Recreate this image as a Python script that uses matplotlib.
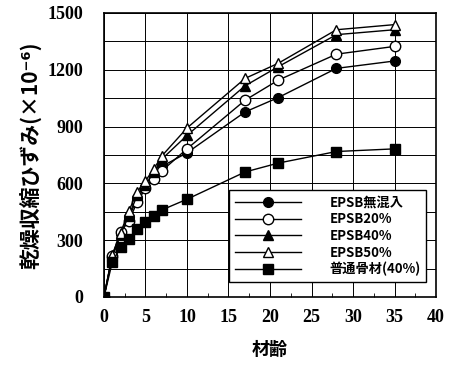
import numpy as np
import matplotlib
matplotlib.use('Agg')
import matplotlib.pyplot as plt
from matplotlib.ticker import MultipleLocator

# 材齢 (日)
age = [0, 1, 2, 3, 4, 5, 6, 7, 10, 17, 21, 28, 35]

# 乾燥収縮ひずみ (×10-6)
epsb_0 = [0, 210, 330, 420, 520, 580, 630, 690, 761, 977, 1053, 1207, 1246]
epsb_20 = [0, 215, 345, 400, 502, 573, 622, 667, 782, 1039, 1145, 1282, 1323]
epsb_40 = [0, 215, 330, 430, 536, 590, 660, 729, 853, 1115, 1216, 1385, 1411]
epsb_50 = [0, 223, 339, 454, 555, 613, 676, 746, 892, 1154, 1234, 1411, 1438]
normal_40 = [0, 183, 262, 305, 361, 394, 429, 460, 516, 660, 707, 768, 782]

labels = ['EPSB無混入', 'EPSB20%', 'EPSB40%', 'EPSB50%', '普通骨材(40%)']

plt.rcParams['font.family'] = ['Noto Sans CJK JP', 'DejaVu Sans']

fig = plt.figure(figsize=(4.5, 3.68), dpi=100)
ax = fig.add_axes([0.231, 0.193, 0.738, 0.772])

ax.plot(age, epsb_0, color='black', lw=1.0, marker='o', ms=7, mfc='black', mec='black', label=labels[0])
ax.plot(age, epsb_20, color='black', lw=1.0, marker='o', ms=7.5, mfc='white', mec='black', label=labels[1])
ax.plot(age, epsb_40, color='black', lw=1.0, marker='^', ms=7, mfc='black', mec='black', label=labels[2])
ax.plot(age, epsb_50, color='black', lw=1.0, marker='^', ms=7.5, mfc='white', mec='black', label=labels[3])
ax.plot(age, normal_40, color='black', lw=1.0, marker='s', ms=7, mfc='black', mec='black', label=labels[4])

ax.set_xlim(0, 40)
ax.set_ylim(0, 1500)
ax.xaxis.set_major_locator(MultipleLocator(5))
ax.xaxis.set_minor_locator(MultipleLocator(2.5))
ax.yaxis.set_major_locator(MultipleLocator(300))
ax.yaxis.set_minor_locator(MultipleLocator(150))

ax.xaxis.grid(which='major', color='black', lw=0.7)
ax.yaxis.grid(which='both', color='black', lw=0.7)
ax.set_axisbelow(True)
for s in ax.spines.values():
    s.set_linewidth(1.2)

ax.tick_params(axis='x', which='major', direction='in', length=0, pad=9)
ax.tick_params(axis='x', which='minor', direction='in', length=3)
ax.tick_params(axis='y', which='both', length=0, pad=15)
for t in ax.get_xticklabels() + ax.get_yticklabels():
    t.set_fontfamily('Liberation Serif')
    t.set_fontweight('bold')
    t.set_fontsize(13)

ax.set_xlabel('材齢', fontsize=13, fontweight='bold', labelpad=10)
ax.set_ylabel('乾燥収縮ひずみ(×10⁻⁶)', fontsize=15, fontweight='bold', labelpad=4)

leg = ax.legend(loc='lower right', bbox_to_anchor=(0.99, 0.03), frameon=True, fancybox=False,
                edgecolor='black', framealpha=1, handlelength=5.0, handletextpad=2.2,
                labelspacing=0.2, borderpad=0.4, prop={'size': 9.5, 'weight': 'bold'})
leg.get_frame().set_linewidth(1.0)

fig.savefig('out.png', dpi=100)
